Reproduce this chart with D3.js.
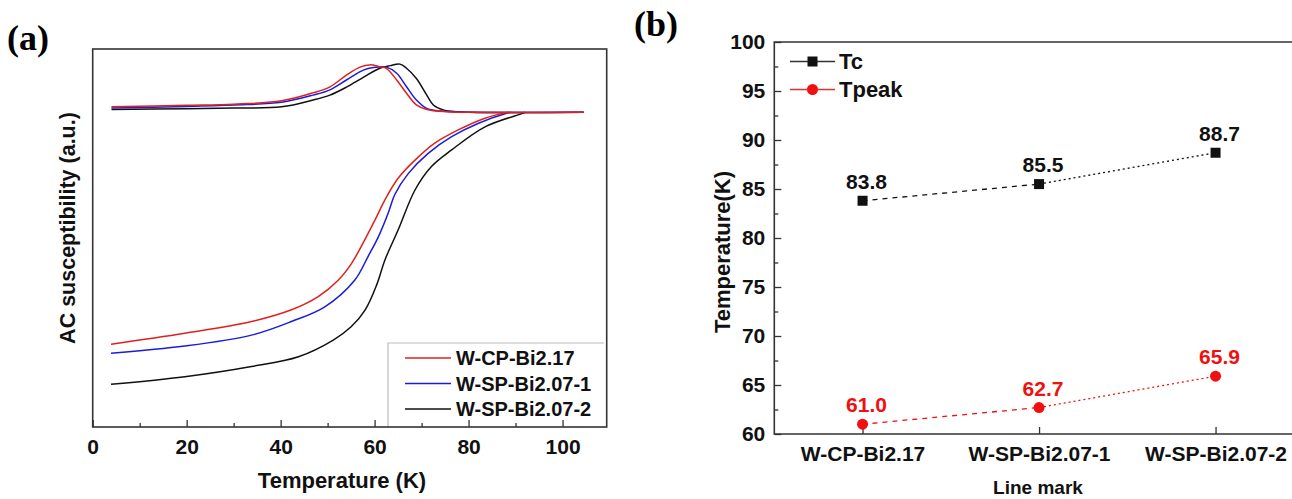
<!DOCTYPE html>
<html>
<head>
<meta charset="utf-8">
<script src="https://cdn.jsdelivr.net/npm/d3@7"></script>
<style>
  body { margin: 0; background: #fff; }
  svg { display: block; font-family: "Liberation Sans", Arial, sans-serif; }
  .frame { fill: none; stroke: #333; stroke-width: 1.6; }
  .tick-lbl { font-weight: bold; font-size: 21px; fill: #111; }
</style>
</head>
<body>
<svg id="chart" width="1292" height="499"></svg>
<script>
// ---- panel (a) data: temperature (K) vs AC susceptibility (a.u.)
const seriesNames = ["W-CP-Bi2.17", "W-SP-Bi2.07-1", "W-SP-Bi2.07-2"];
const seriesColors = ["#e0201c", "#1c1cd8", "#111111"];

// upper (peak) curves
const peakRedT   = [4, 20, 30, 40.2, 46.9, 50.5, 54, 56.9, 59, 61.1, 62.5, 64.7, 66.8, 68.9, 71.1, 75.3, 80, 104.5];
const peakRedV   = [84.7, 85.1, 85.4, 86.3, 88.4, 90.0, 93.1, 95.2, 95.8, 95.3, 94.9, 91.8, 88.3, 85.2, 84.0, 83.4, 83.25, 83.25];
const peakBlueT  = [4, 20, 30, 40.2, 46.9, 50.5, 54, 57.6, 59.7, 62.5, 64.7, 66.8, 68.9, 71.1, 73.9, 76.8, 80, 104.5];
const peakBlueV  = [84.4, 84.8, 85.2, 85.9, 87.8, 89.2, 91.8, 94.4, 95.1, 95.2, 93.6, 90.0, 86.5, 84.3, 83.6, 83.4, 83.25, 83.25];
const peakBlackT = [4, 20, 30, 40.2, 46.9, 50.5, 54, 57.6, 61.1, 63.3, 65.4, 66.8, 68.9, 71.1, 72.5, 74.6, 77.4, 80, 104.5];
const peakBlackV = [84.0, 84.2, 84.4, 84.7, 86.5, 87.8, 89.9, 92.5, 94.9, 95.6, 96.0, 94.9, 92.2, 87.8, 85.2, 83.9, 83.4, 83.25, 83.25];

// lower (transition) curves
const dropRedT   = [3.9, 19.6, 33.8, 42.3, 48, 52.3, 55.1, 57.9, 60.1, 62.2, 65, 68.6, 72.8, 77.8, 83.5, 87.4, 88.5];
const dropRedV   = [21.9, 24.8, 27.9, 31.0, 34.5, 38.9, 43.3, 49.5, 54.8, 60.1, 65.8, 70.6, 75.1, 78.6, 81.7, 83.0, 83.25];
const dropBlueT  = [3.9, 19.6, 33.8, 42.3, 49.4, 55.8, 58.6, 60.8, 62.9, 64.3, 67.2, 71.4, 76.4, 82.0, 88.1, 89];
const dropBlueV  = [19.5, 21.4, 24.3, 27.9, 31.8, 38.9, 45.1, 50.3, 56.6, 61.5, 67.1, 72.4, 76.8, 80.3, 83.0, 83.25];
const dropBlackT = [3.9, 19.6, 33.8, 43.8, 51.2, 55, 58, 60.5, 62.2, 65, 68.6, 72.1, 76.4, 83.5, 91.3, 92];
const dropBlackV = [11.3, 13.3, 16.0, 18.6, 23.0, 26.5, 31.0, 37.8, 44.2, 52.1, 62.7, 68.9, 73.3, 79.4, 82.9, 83.25];

const xTicksA = [0, 20, 40, 60, 80, 100];

// ---- panel (b) data
const sampleNames = ["W-CP-Bi2.17", "W-SP-Bi2.07-1", "W-SP-Bi2.07-2"];
const tcValues = [83.8, 85.5, 88.7];
const tpeakValues = [61.0, 62.7, 65.9];
const yTicksB = [60, 65, 70, 75, 80, 85, 90, 95, 100];

const svg = d3.select("#chart");

function zip(ts, vs) { return ts.map((t, i) => [t, vs[i]]); }

// ================= panel (a)
const ax = d3.scaleLinear().domain([0, 109.4]).range([92.7, 606.7]);
const ay = d3.scaleLinear().domain([0, 100]).range([427, 49]);
const ga = svg.append("g");

// minor ticks (inward)
ga.append("g").attr("transform", "translate(0,427)")
  .call(d3.axisBottom(ax).tickValues([10, 30, 50, 70, 90]).tickSize(-4).tickFormat(""))
  .call(g => g.select(".domain").remove())
  .call(g => g.selectAll("line").attr("stroke", "#333").attr("stroke-width", 1.3));
ga.append("g").attr("transform", "translate(0,427)")
  .call(d3.axisBottom(ax).tickValues(xTicksA).tickSize(-7).tickPadding(8))
  .call(g => g.select(".domain").remove())
  .call(g => g.selectAll("line").attr("stroke", "#333").attr("stroke-width", 1.3))
  .call(g => g.selectAll("text").attr("class", "tick-lbl").attr("dy", "0.9em").attr("font-family", null).attr("font-size", null));

const lineA = d3.line().x(d => ax(d[0])).y(d => ay(d[1])).curve(d3.curveCatmullRom.alpha(0.5));
const curvesA = [
  { c: seriesColors[2], d: zip(peakBlackT, peakBlackV) },
  { c: seriesColors[2], d: zip(dropBlackT, dropBlackV) },
  { c: seriesColors[1], d: zip(peakBlueT, peakBlueV) },
  { c: seriesColors[1], d: zip(dropBlueT, dropBlueV) },
  { c: seriesColors[0], d: zip(peakRedT, peakRedV) },
  { c: seriesColors[0], d: zip(dropRedT, dropRedV) }
];
ga.selectAll("path.curve").data(curvesA).join("path")
  .attr("class", "curve")
  .attr("fill", "none")
  .attr("stroke", d => d.c)
  .attr("stroke-width", 1.5)
  .attr("d", d => lineA(d.d));

// legend (a)
const legA = ga.append("g");
legA.append("path").attr("d", "M388,427 V343 H604")
  .attr("fill", "none").attr("stroke", "#bbb").attr("stroke-width", 1.2);
seriesNames.forEach((name, i) => {
  const y = 358 + i * 25.5;
  legA.append("line").attr("x1", 405).attr("x2", 451).attr("y1", y).attr("y2", y)
    .attr("stroke", seriesColors[i]).attr("stroke-width", 1.5);
  legA.append("text").attr("x", 456).attr("y", y).attr("dy", "0.36em")
    .attr("class", "tick-lbl").style("font-size", "20px").text(name);
});

ga.append("rect").attr("class", "frame")
  .attr("x", 92.7).attr("y", 49).attr("width", 606.7 - 92.7).attr("height", 427 - 49);

ga.append("text").attr("x", 342).attr("y", 488).attr("text-anchor", "middle")
  .attr("font-weight", "bold").attr("font-size", 22).attr("fill", "#111")
  .text("Temperature (K)");
ga.append("text").attr("transform", "translate(75,228) rotate(-90)")
  .attr("text-anchor", "middle")
  .attr("font-weight", "bold").attr("font-size", 21.5).attr("fill", "#111")
  .text("AC susceptibility (a.u.)");

svg.append("text").attr("x", 7).attr("y", 50)
  .attr("font-family", "'Liberation Serif', 'Times New Roman', serif")
  .attr("font-weight", "bold").attr("font-size", 36).attr("fill", "#000")
  .text("(a)");

// ================= panel (b)
const bx = d3.scalePoint().domain(sampleNames).range([774.3, 1303.8]).padding(0.5);
const by = d3.scaleLinear().domain([60, 100]).range([434, 42]);
const gb = svg.append("g");

// minor y ticks
gb.append("g").attr("transform", "translate(774.3,0)")
  .call(d3.axisLeft(by).tickValues(d3.range(62.5, 100, 5)).tickSize(-4).tickFormat(""))
  .call(g => g.select(".domain").remove())
  .call(g => g.selectAll("line").attr("stroke", "#333").attr("stroke-width", 1.3));
gb.append("g").attr("transform", "translate(774.3,0)")
  .call(d3.axisLeft(by).tickValues(yTicksB).tickSize(-7).tickPadding(9))
  .call(g => g.select(".domain").remove())
  .call(g => g.selectAll("line").attr("stroke", "#333").attr("stroke-width", 1.3))
  .call(g => g.selectAll("text").attr("class", "tick-lbl").attr("font-family", null).attr("font-size", null));
gb.append("g").attr("transform", "translate(0,434)")
  .call(d3.axisBottom(bx).tickSize(-7).tickPadding(8))
  .call(g => g.select(".domain").remove())
  .call(g => g.selectAll("line").attr("stroke", "#333").attr("stroke-width", 1.3))
  .call(g => g.selectAll("text").attr("class", "tick-lbl").attr("dy", "0.9em").attr("font-family", null).attr("font-size", null));

gb.append("path").attr("class", "frame")
  .attr("d", "M1292,42 H774.3 V434 H1292");

const lineB = d3.line().x(d => bx(d[0])).y(d => by(d[1])).curve(d3.curveMonotoneX);
function drawSeries(vals, color, marker) {
  const pts = sampleNames.map((n, i) => [n, vals[i]]);
  // first segment dashed, second dotted
  gb.append("path").attr("d", lineB(pts.slice(0, 2)))
    .attr("fill", "none").attr("stroke", color).attr("stroke-width", 1.3)
    .attr("stroke-dasharray", "5,5");
  gb.append("path").attr("d", lineB(pts.slice(1)))
    .attr("fill", "none").attr("stroke", color).attr("stroke-width", 1.3)
    .attr("stroke-dasharray", "2,3");
  pts.forEach(p => {
    if (marker === "square") {
      gb.append("rect").attr("x", bx(p[0]) - 5).attr("y", by(p[1]) - 5)
        .attr("width", 10).attr("height", 10).attr("fill", color);
    } else {
      gb.append("circle").attr("cx", bx(p[0])).attr("cy", by(p[1])).attr("r", 5.5).attr("fill", color);
    }
    gb.append("text").attr("x", bx(p[0]) + 4).attr("y", by(p[1]) - 12)
      .attr("text-anchor", "middle").attr("class", "tick-lbl")
      .style("fill", color).text(p[1].toFixed(1));
  });
}
drawSeries(tcValues, "#111", "square");
drawSeries(tpeakValues, "#f01010", "circle");

// legend (b)
[["Tc", "#111", "square"], ["Tpeak", "#f01010", "circle"]].forEach((r, i) => {
  const y = 61.5 + i * 28;
  gb.append("line").attr("x1", 790).attr("x2", 835).attr("y1", y).attr("y2", y)
    .attr("stroke", r[1] === "#111" ? "#333" : "#e03030").attr("stroke-width", 1.3);
  if (r[2] === "square") {
    gb.append("rect").attr("x", 807.5).attr("y", y - 5).attr("width", 10).attr("height", 10).attr("fill", r[1]);
  } else {
    gb.append("circle").attr("cx", 812.5).attr("cy", y).attr("r", 5.5).attr("fill", r[1]);
  }
  gb.append("text").attr("x", 839).attr("y", y).attr("dy", "0.36em")
    .attr("class", "tick-lbl").style("font-size", "22px").text(r[0]);
});

gb.append("text").attr("x", 1038).attr("y", 494).attr("text-anchor", "middle")
  .attr("font-weight", "bold").attr("font-size", 19).attr("fill", "#111")
  .text("Line mark");
gb.append("text").attr("transform", "translate(730,252) rotate(-90)")
  .attr("text-anchor", "middle")
  .attr("font-weight", "bold").attr("font-size", 22).attr("fill", "#111")
  .text("Temperature(K)");

svg.append("text").attr("x", 634).attr("y", 36)
  .attr("font-family", "'Liberation Serif', 'Times New Roman', serif")
  .attr("font-weight", "bold").attr("font-size", 36).attr("fill", "#000")
  .text("(b)");
</script>
</body>
</html>
